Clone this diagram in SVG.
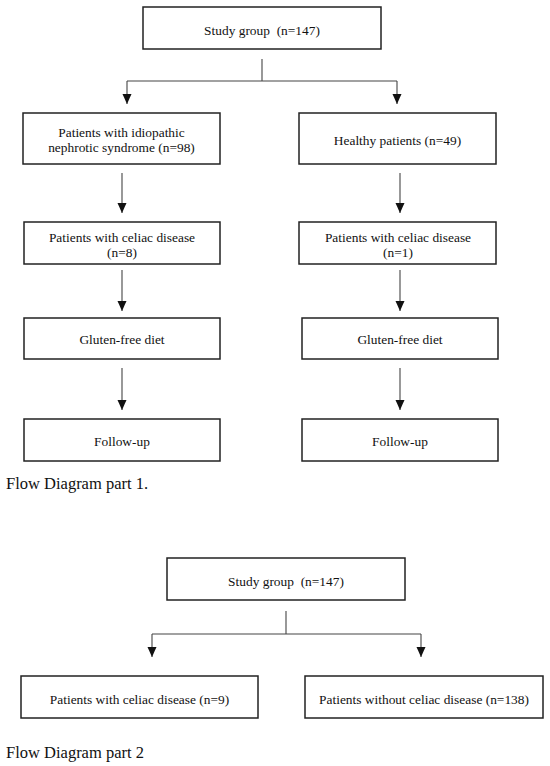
<svg xmlns="http://www.w3.org/2000/svg" width="550" height="766" viewBox="0 0 550 766">
<style>
.box{fill:#fff;stroke:#222;stroke-width:1.5}
.t{font-family:"Liberation Serif","Times New Roman",serif;font-size:13.4px;fill:#111;text-anchor:middle}
.cap{font-family:"Liberation Serif","Times New Roman",serif;font-size:16.5px;fill:#111}
.ln{fill:none;stroke:#444;stroke-width:1.1}
.ar{fill:none;stroke:#444;stroke-width:1.1;marker-end:url(#ah)}
</style>
<defs>
<marker id="ah" markerUnits="userSpaceOnUse" markerWidth="10" markerHeight="10" refX="10" refY="4.5" orient="auto">
<path d="M0,0 L10,4.5 L0,9 z" fill="#111"/>
</marker>
</defs>
<rect width="550" height="766" fill="#fff"/>
<g id="connectors">
<line class="ln" x1="262" y1="59" x2="262" y2="81"/>
<line class="ln" x1="127" y1="81" x2="397" y2="81"/>
<line class="ar" x1="127" y1="81" x2="127" y2="104"/>
<line class="ar" x1="397" y1="81" x2="397" y2="104"/>
<line class="ar" x1="122" y1="173" x2="122" y2="213"/>
<line class="ar" x1="400" y1="173" x2="400" y2="213"/>
<line class="ar" x1="122" y1="270" x2="122" y2="311"/>
<line class="ar" x1="400" y1="270" x2="400" y2="311"/>
<line class="ar" x1="122" y1="368" x2="122" y2="410"/>
<line class="ar" x1="400" y1="368" x2="400" y2="410"/>
<line class="ln" x1="286" y1="611" x2="286" y2="634"/>
<line class="ln" x1="152" y1="634" x2="421" y2="634"/>
<line class="ar" x1="152" y1="634" x2="152" y2="657"/>
<line class="ar" x1="421" y1="634" x2="421" y2="657"/>
</g>
<g id="study1"><rect class="box" x="143" y="7" width="238" height="42"/><text class="t" x="262" y="34.5" xml:space="preserve">Study group  (n=147)</text></g>
<g id="ins"><rect class="box" x="23" y="113" width="197" height="51"/><text class="t" x="121.5" y="136.5">Patients with idiopathic</text><text class="t" x="121.5" y="151.5">nephrotic syndrome (n=98)</text></g>
<g id="healthy"><rect class="box" x="299" y="113" width="197" height="51"/><text class="t" x="397.5" y="144.5">Healthy patients (n=49)</text></g>
<g id="celiacL"><rect class="box" x="24" y="222" width="196" height="42"/><text class="t" x="122" y="241.5">Patients with celiac disease</text><text class="t" x="122" y="256.5">(n=8)</text></g>
<g id="celiacR"><rect class="box" x="299" y="222" width="197" height="42"/><text class="t" x="398" y="241.5">Patients with celiac disease</text><text class="t" x="398" y="256.5">(n=1)</text></g>
<g id="gfdL"><rect class="box" x="24" y="318" width="196" height="41"/><text class="t" x="122" y="343.5">Gluten-free diet</text></g>
<g id="gfdR"><rect class="box" x="302" y="318" width="196" height="41"/><text class="t" x="400" y="343.5">Gluten-free diet</text></g>
<g id="fuL"><rect class="box" x="24" y="419" width="196" height="42"/><text class="t" x="122" y="445.5">Follow-up</text></g>
<g id="fuR"><rect class="box" x="302" y="419" width="196" height="42"/><text class="t" x="400" y="445.5">Follow-up</text></g>
<text class="cap" x="6" y="489">Flow Diagram part 1.</text>
<g id="study2"><rect class="box" x="167" y="558" width="238" height="42"/><text class="t" x="286" y="586" xml:space="preserve">Study group  (n=147)</text></g>
<g id="withCD"><rect class="box" x="21" y="676" width="237" height="42"/><text class="t" x="139.5" y="704">Patients with celiac disease (n=9)</text></g>
<g id="withoutCD"><rect class="box" x="305" y="676" width="238" height="42"/><text class="t" x="424" y="704">Patients without celiac disease (n=138)</text></g>
<text class="cap" x="6" y="758">Flow Diagram part 2</text>
</svg>
